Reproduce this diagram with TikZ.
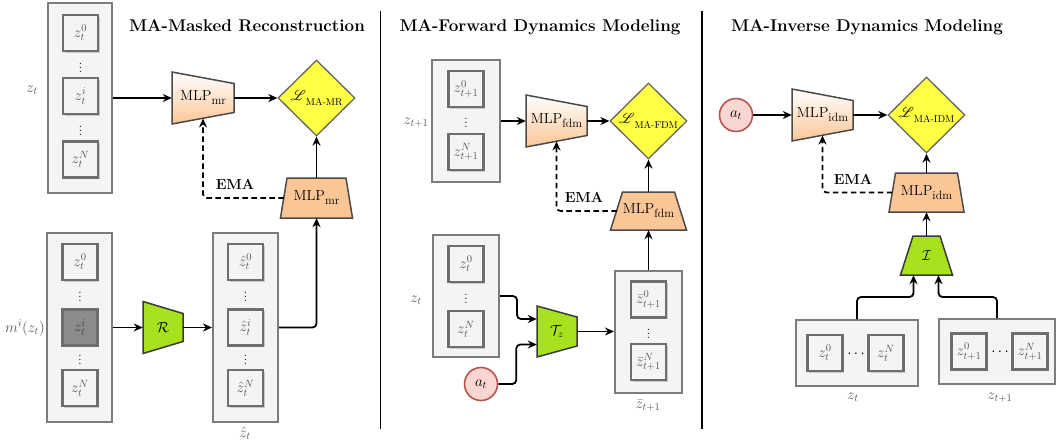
\RequirePackage{fix-cm}
\documentclass[tikz,border=0pt]{standalone}
\usepackage{mathrsfs}
\usetikzlibrary{arrows.meta,calc,shapes.geometric,shadows}
\pgfdeclarelayer{bg}
\pgfsetlayers{bg,main}
\definecolor{boxfill}{HTML}{F4F4F4}
\definecolor{boxline}{HTML}{7C7C7C}
\definecolor{innerline}{HTML}{6E6E6E}
\definecolor{txtgray}{HTML}{555555}
\definecolor{maskgray}{HTML}{8C8C8C}
\definecolor{peach}{HTML}{FBC696}
\definecolor{trapline}{HTML}{4A4A4A}
\definecolor{lossyellow}{HTML}{FFFF44}
\definecolor{lossline}{HTML}{666666}
\definecolor{encgreen}{HTML}{A8E21E}
\definecolor{encline}{HTML}{3A3A3A}
\definecolor{atfill}{HTML}{F9D6D2}
\definecolor{atline}{HTML}{B85450}
\newcommand{\mlpname}[1]{MLP\raisebox{-0.28em}{\fontsize{12}{12}\selectfont #1}}
\newcommand{\lossname}[1]{$\mathscr{L}$\raisebox{-0.32em}{\fontsize{10}{10}\selectfont #1}}
\newcommand{\trapH}[5]{\draw[#5] ($(#1.center)+(-#2,-#3)$) -- ($(#1.center)+(#2,-#4)$) -- ($(#1.center)+(#2,#4)$) -- ($(#1.center)+(-#2,#3)$) -- cycle;}
\newcommand{\trapV}[5]{\draw[#5] ($(#1.center)+(-#3,-#2)$) -- ($(#1.center)+(#3,-#2)$) -- ($(#1.center)+(#4,#2)$) -- ($(#1.center)+(-#4,#2)$) -- cycle;}
\tikzset{
 outerbox/.style={draw=boxline, fill=boxfill, line width=2pt, inner sep=0pt},
 cell/.style={draw=innerline, fill=boxfill, line width=2.2pt, minimum width=35pt, minimum height=36pt, inner sep=0pt, text=txtgray, font=\fontsize{15}{17}\selectfont, drop shadow={shadow xshift=1.5pt, shadow yshift=-1.5pt, opacity=0.3, fill=black!60}},
 masked/.style={fill=maskgray, text=black!75},
 dotsnode/.style={inner sep=0pt, font=\fontsize{15}{17}\selectfont},
 lbl/.style={text=txtgray, font=\fontsize{15}{17}\selectfont},
 titletxt/.style={font=\fontsize{17}{20}\selectfont\bfseries},
 ematxt/.style={font=\fontsize{14.5}{16}\selectfont\bfseries},
 trapnode/.style={inner sep=0pt, font=\fontsize{14.5}{16}\selectfont},
 mlptop/.style={draw=trapline, line width=1.5pt, top color=white, bottom color=peach},
 mlpbot/.style={draw=trapline, line width=1.5pt, fill=peach},
 enc/.style={draw=encline, line width=1.5pt, fill=encgreen},
 loss/.style={diamond, aspect=1, draw=lossline, line width=1.3pt, fill=lossyellow, minimum width=77pt, minimum height=76pt, inner sep=0pt, font=\fontsize{13.5}{15}\selectfont},
 act/.style={circle, draw=atline, fill=atfill, line width=1.6pt, minimum size=33pt, inner sep=0pt, font=\fontsize{15}{17}\selectfont},
 arr/.style={-{Stealth[length=9pt,width=8pt]}, line width=1.8pt},
 emaarr/.style={arr, dash pattern=on 5.5pt off 3.5pt, rounded corners=4pt},
 sep/.style={line width=1.8pt},
}
\begin{document}
\begin{tikzpicture}[x=1pt,y=-1pt]
\useasboundingbox (0,0) rectangle (1057,442);
% ---------------- Panel 1 ----------------
\node[titletxt] (t1) at (247,26) {MA-Masked Reconstruction};
\node[outerbox, minimum width=64pt, minimum height=190pt] (zt1) at (80,98) {};
\node[cell] (c10) at (80.5,33) {$z_t^0$};
\node[dotsnode] (d11) at (80.5,65) {$\vdots$};
\node[cell] (c1i) at (80.5,96) {$z_t^i$};
\node[dotsnode] (d12) at (80.5,128) {$\vdots$};
\node[cell] (c1N) at (80.5,159.5) {$z_t^N$};
\node[lbl] (l1) at (32,90) {$z_t$};
\node[trapnode, minimum width=62pt, minimum height=40.5pt] (mlp1) at (203,98) {\mlpname{mr}};
\node[loss] (loss1) at (316.5,98) {\lossname{MA-MR}};
\node[trapnode, minimum width=65pt, minimum height=40pt] (mlp1b) at (316.5,198) {\mlpname{mr}};
\node[ematxt] (ema1) at (235,184) {EMA};
\node[outerbox, minimum width=65pt, minimum height=189pt] (mz1) at (79.5,327.5) {};
\node[cell] (m10) at (80,262) {$z_t^0$};
\node[dotsnode] (md11) at (80,294) {$\vdots$};
\node[cell, masked] (m1i) at (80,327.5) {$z_t^i$};
\node[dotsnode] (md12) at (80,357) {$\vdots$};
\node[cell] (m1N) at (80,388) {$z_t^N$};
\node[lbl] (l2) at (25,328) {$m^i(z_t)$};
\node[trapnode, minimum width=40pt, minimum height=40pt] (R) at (163,327.5) {$\mathcal{R}$};
\node[outerbox, minimum width=65pt, minimum height=189pt] (hz1) at (245.5,327.5) {};
\node[cell] (h10) at (245.5,262) {$\hat z_t^0$};
\node[dotsnode] (hd11) at (245.5,294) {$\vdots$};
\node[cell] (h1i) at (245.5,327.5) {$\hat z_t^i$};
\node[dotsnode] (hd12) at (245.5,357) {$\vdots$};
\node[cell] (h1N) at (245.5,388) {$\hat z_t^N$};
\node[lbl] (l3) at (245,433) {$\hat z_t$};
% ---------------- Panel 2 ----------------
\node[titletxt] (t2) at (540,27) {MA-Forward Dynamics Modeling};
\node[outerbox, minimum width=68pt, minimum height=122pt] (ztp2) at (466,121) {};
\node[cell] (p20) at (466,89) {$z_{t+1}^0$};
\node[dotsnode] (pd2) at (466,120) {$\vdots$};
\node[cell] (p2N) at (466,152) {$z_{t+1}^N$};
\node[lbl] (l4) at (416,123) {$z_{t+1}$};
\node[trapnode, minimum width=61pt, minimum height=40.5pt] (mlp2) at (556.5,121) {\mlpname{fdm}};
\node[loss] (loss2) at (648.5,121) {\lossname{MA-FDM}};
\node[trapnode, minimum width=63pt, minimum height=38pt] (mlp2b) at (648.5,211) {\mlpname{fdm}};
\node[ematxt] (ema2) at (584,197) {EMA};
\node[outerbox, minimum width=66pt, minimum height=122pt] (zt2) at (466,296) {};
\node[cell] (q20) at (466,264) {$z_t^0$};
\node[dotsnode] (qd2) at (466,296) {$\vdots$};
\node[cell] (q2N) at (466,329) {$z_t^N$};
\node[lbl] (l5) at (416,300) {$z_t$};
\node[act] (at2) at (481,384) {$a_t$};
\node[trapnode, minimum width=40pt, minimum height=40pt] (tz) at (557,331.5) {$\mathcal{T}_z$};
\node[outerbox, minimum width=67pt, minimum height=122pt] (bz) at (648.5,332) {};
\node[cell] (b20) at (648.5,299.5) {$\bar z_{t+1}^0$};
\node[dotsnode] (bd2) at (648.5,331) {$\vdots$};
\node[cell] (b2N) at (648.5,362) {$\bar z_{t+1}^N$};
\node[lbl] (l6) at (648,406) {$\bar z_{t+1}$};
% ---------------- Panel 3 ----------------
\node[titletxt] (t3) at (867,27) {MA-Inverse Dynamics Modeling};
\node[act] (at3) at (736,115) {$a_t$};
\node[trapnode, minimum width=61pt, minimum height=40.5pt] (mlp3) at (822.5,115) {\mlpname{idm}};
\node[loss] (loss3) at (926.5,115) {\lossname{MA-IDM}};
\node[trapnode, minimum width=68pt, minimum height=39pt] (mlp3b) at (926.5,192.5) {\mlpname{idm}};
\node[ematxt] (ema3) at (853,179) {EMA};
\node[trapnode, minimum width=40pt, minimum height=39pt] (enI) at (926.5,255.5) {$\mathcal{I}$};
\node[outerbox, minimum width=122pt, minimum height=66pt] (zt3) at (857,353) {};
\node[cell] (r30) at (825,353) {$z_t^0$};
\node[dotsnode] (rd3) at (856,354) {$\cdots$};
\node[cell] (r3N) at (886,353) {$z_t^N$};
\node[lbl] (l7) at (853,397) {$z_t$};
\node[outerbox, minimum width=116pt, minimum height=65pt] (ztp3) at (997,351.5) {};
\node[cell] (s30) at (969,351.5) {$z_{t+1}^0$};
\node[dotsnode] (sd3) at (1000,352.5) {$\cdots$};
\node[cell] (s3N) at (1030,351.5) {$z_{t+1}^N$};
\node[lbl] (l8) at (1000,398) {$z_{t+1}$};
% ---------------- separators ----------------
\coordinate (s1a) at (380.5,11);
\coordinate (s1b) at (380.5,429);
\coordinate (s2a) at (702,11);
\coordinate (s2b) at (702,429);
\draw[sep] (s1a) -- (s1b);
\draw[sep] (s2a) -- (s2b);
% ---------------- trapezoid bodies ----------------
\begin{pgfonlayer}{bg}
\trapH{mlp1}{31}{26}{14.5}{mlptop}
\trapV{mlp1b}{20}{29.5}{36}{mlpbot}
\trapH{R}{20}{26}{14}{enc}
\trapH{mlp2}{30.5}{26}{14.5}{mlptop}
\trapV{mlp2b}{19}{26}{38}{mlpbot}
\trapH{tz}{20}{25.5}{14.5}{enc}
\trapH{mlp3}{30.5}{26}{14.5}{mlptop}
\trapV{mlp3b}{19.5}{31}{37.5}{mlpbot}
\trapV{enI}{19.5}{13.5}{26}{enc}
\end{pgfonlayer}
% ---------------- connectors ----------------
\draw[arr] (mlp1.west -| zt1.east) -- (mlp1.west);
\draw[arr] (mlp1.east) -- (loss1.west);
\draw[arr] (mlp1b.north) -- (loss1.south);
\draw[emaarr] (mlp1b.west) -| (mlp1.south);
\draw[arr] (R.west -| mz1.east) -- (R.west);
\draw[arr] (R.east) -- (R.east -| hz1.west);
\draw[arr, rounded corners=4pt] (hz1.east) -| (mlp1b.south);
\draw[arr] (mlp2.west -| ztp2.east) -- (mlp2.west);
\draw[arr] (mlp2.east) -- (loss2.west);
\draw[arr] (mlp2b.north) -- (loss2.south);
\draw[emaarr] (mlp2b.west) -| (mlp2.south);
\draw[arr, rounded corners=4pt] (zt2.east) -- ++(17,0) |- ([yshift=12.5pt]tz.west);
\draw[arr, rounded corners=4pt] (at2.east) -- ++(18,0) |- ([yshift=-13pt]tz.west);
\draw[arr] (tz.east) -- (tz.east -| bz.west);
\draw[arr] (bz.north) -- (mlp2b.south);
\draw[arr] (at3.east) -- (mlp3.west);
\draw[arr] (mlp3.east) -- (loss3.west);
\draw[arr] (mlp3b.north) -- (loss3.south);
\draw[emaarr] (mlp3b.west) -| (mlp3.south);
\draw[arr] (enI.north) -- (mlp3b.south);
\draw[arr, rounded corners=4pt] (zt3.north) -- ++(0,-22) -| ([xshift=-13pt]enI.south);
\draw[arr, rounded corners=4pt] (ztp3.north) -- ++(0,-21) -| ([xshift=12pt]enI.south);
\end{tikzpicture}
\end{document}
